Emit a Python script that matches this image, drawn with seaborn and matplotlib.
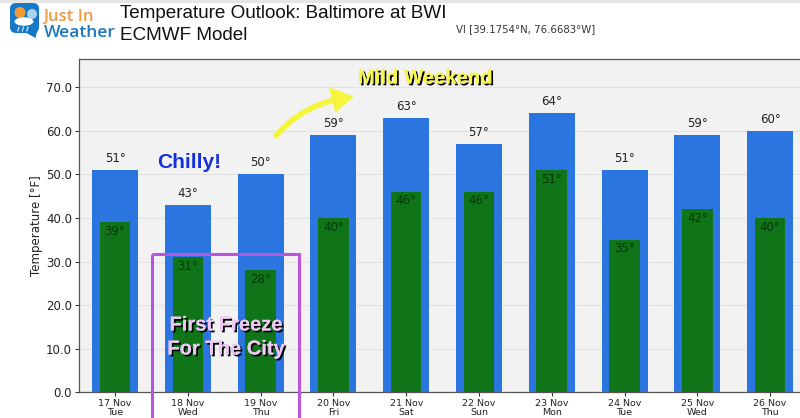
import matplotlib
matplotlib.use("Agg")
import matplotlib.pyplot as plt
import matplotlib.patheffects as pe
from matplotlib.patches import FancyArrowPatch, FancyBboxPatch, Rectangle, Circle, Polygon, Ellipse
import pandas as pd
import seaborn as sns

# -- data --
dates = ['17 Nov', '18 Nov', '19 Nov', '20 Nov', '21 Nov', '22 Nov', '23 Nov', '24 Nov', '25 Nov', '26 Nov']
days = ['Tue', 'Wed', 'Thu', 'Fri', 'Sat', 'Sun', 'Mon', 'Tue', 'Wed', 'Thu']
highs = [51, 43, 50, 59, 63, 57, 64, 51, 59, 60]
lows = [39, 31, 28, 40, 46, 46, 51, 35, 42, 40]
y_ticks = [0, 10, 20, 30, 40, 50, 60, 70]

labels = [d + '\n' + w for d, w in zip(dates, days)]
df = pd.DataFrame({'day': labels, 'high': highs, 'low': lows})

sns.set_theme(style="whitegrid")
plt.rcParams['font.family'] = ['DejaVu Sans']

W, H = 800, 418
fig = plt.figure(figsize=(W / 100, H / 100), dpi=100, facecolor='white')
ax = fig.add_axes([79 / W, 1 - 392.3 / H, (W - 79) / W, (392.3 - 58.5) / H])
ax.set_facecolor('#f2f2f2')

sns.barplot(data=df, x='day', y='high', color='#2b75e0', width=0.63, saturation=1, linewidth=0, ax=ax, zorder=3)
sns.barplot(data=df, x='day', y='low', color='#0f7518', width=0.42, saturation=1, linewidth=0, ax=ax, zorder=4)

ax.set_xlim(-0.495, 9.41)
ax.set_ylim(0, 76.6)
ax.set_yticks(y_ticks)
ax.set_yticklabels([f'{v:.1f}' for v in y_ticks], fontsize=8.5, color='#222222')
ax.set_ylabel('Temperature [°F]', fontsize=8.5, color='#222222', labelpad=2)
ax.set_xlabel('')
ax.tick_params(axis='x', labelsize=6.8, length=3, width=0.8, color='#333333', labelcolor='#222222', pad=1.5, bottom=True)
ax.tick_params(axis='y', length=3, width=0.8, color='#333333', pad=2, left=True)
for t in ax.get_xticklabels():
    t.set_linespacing(1.12)
ax.grid(axis='x', visible=False)
ax.grid(axis='y', color='#e2e2e2', lw=0.8, zorder=0)
ax.set_axisbelow(True)
for s in ['top', 'left', 'bottom']:
    ax.spines[s].set_visible(True)
    ax.spines[s].set_color('#555555')
    ax.spines[s].set_linewidth(0.9)
ax.spines['right'].set_visible(False)

for i, (hi, lo) in enumerate(zip(highs, lows)):
    ax.text(i, hi + 1.2, f'{hi}°', ha='center', va='bottom', fontsize=8.5, color='#222222', zorder=6)
    ax.text(i, lo - 0.6, f'{lo}°', ha='center', va='top', fontsize=8.5, color='#07350b', zorder=6)

# -- overlay in pixel coordinates for the logo and hand annotations --
ov = fig.add_axes([0, 0, 1, 1], facecolor='none')
ov.set_xlim(0, W)
ov.set_ylim(H, 0)
ov.axis('off')

ov.add_patch(Rectangle((0, 0), W, 2.5, color='#e6e6e6', lw=0))

# logo
ov.add_patch(FancyBboxPatch((10, 3), 29, 30, boxstyle='round,pad=0,rounding_size=6', fc='#1878c8', ec='none'))
ov.add_patch(Polygon([[25, 32], [37, 32], [35.5, 38], [30, 35]], fc='#1878c8', ec='none'))
ov.add_patch(Circle((20, 12.5), 5.5, fc='#f29a38', ec='none'))
ov.add_patch(Circle((32, 14), 5, fc='#a9d2ee', ec='none'))
ov.add_patch(Ellipse((24, 21.5), 19, 8.5, fc='white', ec='none'))
for x0 in [19, 23.5, 28]:
    ov.plot([x0, x0 - 1.2], [27, 31], color='#bcdcf2', lw=1)
ov.text(43, 17.5, 'Just In', fontsize=12, color='#ef9a45', ha='left', va='center', family='Open Sans', fontweight='semibold')
ov.text(44, 33, 'Weather', fontsize=12.6, color='#1d78bd', ha='left', va='center', family='Open Sans', fontweight='semibold')

ov.text(120, 13.5, 'Temperature Outlook: Baltimore at BWI', fontsize=13.6, color='#111111',
        ha='left', va='center', family='Liberation Sans')
ov.text(120, 35, 'ECMWF Model', fontsize=13.6, color='#111111', ha='left', va='center', family='Liberation Sans')
ov.text(456, 29, 'VI [39.1754°N, 76.6683°W]', fontsize=7.3, color='#333333', ha='left', va='center')

ov.text(189, 163, 'Chilly!', fontsize=15, fontweight='bold', color='#1330dc', ha='center', va='center',
        family='Liberation Sans')

ov.text(425, 78, 'Mild Weekend', fontsize=14.6, fontweight='bold', color='#f6f650', ha='center', va='center',
        family='Liberation Sans',
        path_effects=[pe.withSimplePatchShadow(offset=(1.3, -1.3), shadow_rgbFace='black', alpha=1), pe.Normal()])
ov.add_patch(FancyArrowPatch((273, 139), (356, 97), connectionstyle='arc3,rad=-0.22',
                             arrowstyle='simple,head_width=18,head_length=15,tail_width=3.5',
                             fc='#f5f53a', ec='#f5f53a', lw=0.5, mutation_scale=1, zorder=5))

ov.add_patch(Rectangle((152, 254), 146.5, 180, fc='none', ec='#bb55e0', lw=2.2, clip_on=True))
for yy, txt in [(325, 'First Freeze'), (349, 'For The City')]:
    ov.text(226, yy, txt, fontsize=14.5, fontweight='bold', color='#ecc8f2', ha='center', va='center',
            family='Liberation Sans',
            path_effects=[pe.withSimplePatchShadow(offset=(1.3, -1.3), shadow_rgbFace='black', alpha=1), pe.Normal()])

fig.savefig('out.png', dpi=100)
